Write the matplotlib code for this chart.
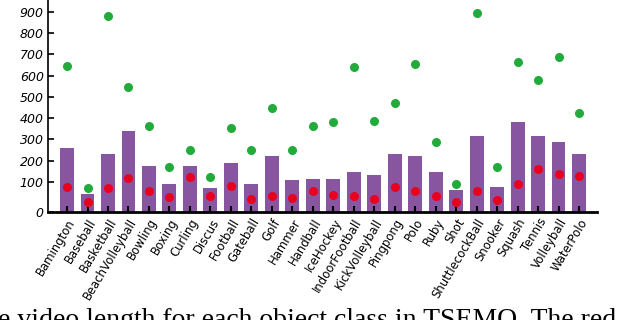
import numpy as np
import matplotlib
matplotlib.use("Agg")
import matplotlib.pyplot as plt
from matplotlib import font_manager

categories = ["Bamington", "Baseball", "Basketball", "BeachVolleyball", "Bowling",
              "Boxing", "Curling", "Discus", "Football", "Gateball", "Golf", "Hammer",
              "Handball", "IceHockey", "IndoorFootball", "KickVolleyball", "Pingpong",
              "Polo", "Ruby", "Shot", "ShuttlecockBall", "Snooker", "Squash", "Tennis",
              "Volleyball", "WaterPolo"]
mean_len = [261, 61, 233, 341, 176, 94, 176, 81, 190, 94, 223, 111, 115, 115, 148,
            134, 233, 223, 148, 74, 317, 84, 383, 317, 289, 233]
min_len = [84, 33, 80, 119, 70, 50, 123, 53, 87, 43, 52, 47, 70, 56, 53, 43, 84, 71,
           53, 35, 70, 41, 93, 162, 139, 130]
max_len = [644, 81, 880, 547, 364, 170, 250, 125, 356, 250, 450, 250, 363, 381, 641,
           387, 473, 656, 286, 95, 893, 170, 663, 577, 688, 425]
ytick_vals = [0, 100, 200, 300, 400, 500, 600, 700, 800, 900]
caption = "e video length for each object class in TSEMO. The red"

names = {f.name for f in font_manager.fontManager.ttflist}
label_family = 'Liberation Sans Narrow' if 'Liberation Sans Narrow' in names else 'DejaVu Sans'

# axis: 0-100 segment is stretched compared with 100-900
K = 1.406
def fwd(v):
    v = np.asarray(v, dtype=float)
    return np.where(v < 100, v * K, v + 100 * (K - 1))
def inv(u):
    u = np.asarray(u, dtype=float)
    return np.where(u < 100 * K, u / K, u - 100 * (K - 1))

fig = plt.figure(figsize=(6.2, 3.2), dpi=100)
ax = fig.add_axes([48/620, 1 - 212/320, 549/620, 212/320])
ax.set_yscale('function', functions=(fwd, inv))

x = np.arange(len(categories))
ax.bar(x, mean_len, width=0.68, color='#8856A0', zorder=1)
ax.plot(x, max_len, 'o', color='#22AA3A', ms=6.5, mec='none', zorder=3)
ax.plot(x, min_len, 'o', color='#E8001E', ms=6.5, mec='none', zorder=3)

ax.set_xlim(-0.93, 25.88)
ax.set_ylim(0, 955)
ax.set_yticks(ytick_vals)
ax.set_yticklabels([str(v) for v in ytick_vals], fontstyle='italic', fontsize=9)
ax.set_xticks(x)
ax.set_xticklabels(categories, rotation=59, ha='right', va='top',
                   rotation_mode='anchor', fontsize=8.4, family=label_family)
ax.tick_params(axis='x', direction='in', length=4, width=1.5, pad=3)
ax.tick_params(axis='y', direction='in', length=4, width=1.2, pad=3)
for s in ['top', 'right']:
    ax.spines[s].set_visible(False)
ax.spines['bottom'].set_linewidth(2)
ax.spines['left'].set_linewidth(1.2)

fig.text(-0.004, -0.022, caption, family='Liberation Serif', fontsize=20,
         ha='left', va='baseline')

fig.savefig('out.png', dpi=100)
